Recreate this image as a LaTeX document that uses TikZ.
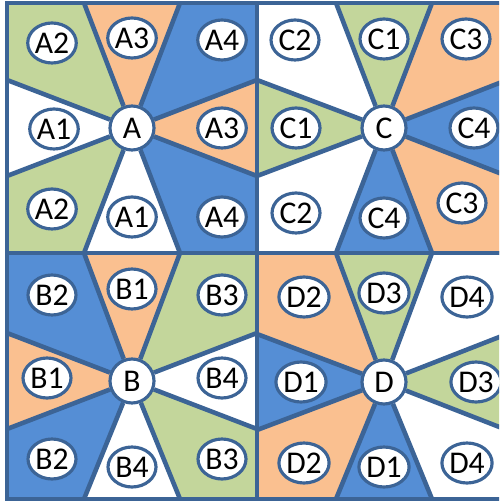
\documentclass[tikz,border=0pt]{standalone}
\usepackage{fontspec}
\setmainfont{Carlito}
\usetikzlibrary{shapes.geometric}
\definecolor{LineBlue}{HTML}{3C6496}
\definecolor{FillBlue}{HTML}{558ED5}
\definecolor{FillGreen}{HTML}{C3D69B}
\definecolor{FillOrange}{HTML}{FAC090}

\begin{document}
\begin{tikzpicture}[x=0.02cm, y=-0.02cm,
        hub/.style={circle, draw=LineBlue, line width=1.8pt, fill=white, minimum size=0.88cm, inner sep=0pt, font=\fontsize{18}{20}\selectfont},
        tag/.style={ellipse, draw=LineBlue, line width=1.8pt, fill=white, minimum width=0.96cm, minimum height=0.8cm, inner sep=0pt, font=\fontsize{18}{20}\selectfont},
        spoke/.style={draw=LineBlue, line width=2.6pt},
        frame/.style={draw=LineBlue, line width=2.2pt}
    ]
    \useasboundingbox (0,0) rectangle (499,502);
    \clip (0,0) rectangle (499,502);

    % corners and spoke ends of each square
    \foreach \q/\x/\y/\xa/\ya/\xb/\yb in {A/132/128/7/3/257/253, C/384/128/257/3/507/253, B/132/381/7/253/257/499, D/384/382/257/253/507/499} {
        \coordinate (\q0) at (\x,\y);
        \coordinate (\q-tl) at (\xa,\ya);
        \coordinate (\q-tr) at (\xb,\ya);
        \coordinate (\q-br) at (\xb,\yb);
        \coordinate (\q-bl) at (\xa,\yb);
        \coordinate (\q-t1) at (\x-48,\ya);
        \coordinate (\q-t2) at (\x+48,\ya);
        \coordinate (\q-r1) at (\xb,\y-48);
        \coordinate (\q-r2) at (\xb,\y+48);
        \coordinate (\q-b1) at (\x-48,\yb);
        \coordinate (\q-b2) at (\x+48,\yb);
        \coordinate (\q-l1) at (\xa,\y-48);
        \coordinate (\q-l2) at (\xa,\y+48);
    }

    % square A
    \fill[FillGreen] (A0) -- (A-l1) -- (A-tl) -- (A-t1) -- cycle;
    \fill[FillOrange] (A0) -- (A-t1) -- (A-t2) -- cycle;
    \fill[FillBlue] (A0) -- (A-t2) -- (A-tr) -- (A-r1) -- cycle;
    \fill[FillOrange] (A0) -- (A-r1) -- (A-r2) -- cycle;
    \fill[FillBlue] (A0) -- (A-r2) -- (A-br) -- (A-b2) -- cycle;
    \fill[FillGreen] (A0) -- (A-b1) -- (A-bl) -- (A-l2) -- cycle;
    % square C
    \fill[FillGreen] (C0) -- (C-t1) -- (C-t2) -- cycle;
    \fill[FillOrange] (C0) -- (C-t2) -- (C-tr) -- (C-r1) -- cycle;
    \fill[FillBlue] (C0) -- (C-r1) -- (C-r2) -- cycle;
    \fill[FillOrange] (C0) -- (C-r2) -- (C-br) -- (C-b2) -- cycle;
    \fill[FillBlue] (C0) -- (C-b2) -- (C-b1) -- cycle;
    \fill[FillGreen] (C0) -- (C-l2) -- (C-l1) -- cycle;
    % square B
    \fill[FillBlue] (B0) -- (B-l1) -- (B-tl) -- (B-t1) -- cycle;
    \fill[FillOrange] (B0) -- (B-t1) -- (B-t2) -- cycle;
    \fill[FillGreen] (B0) -- (B-t2) -- (B-tr) -- (B-r1) -- cycle;
    \fill[FillGreen] (B0) -- (B-r2) -- (B-br) -- (B-b2) -- cycle;
    \fill[FillBlue] (B0) -- (B-b1) -- (B-bl) -- (B-l2) -- cycle;
    \fill[FillOrange] (B0) -- (B-l2) -- (B-l1) -- cycle;
    % square D
    \fill[FillOrange] (D0) -- (D-l1) -- (D-tl) -- (D-t1) -- cycle;
    \fill[FillGreen] (D0) -- (D-t1) -- (D-t2) -- cycle;
    \fill[FillGreen] (D0) -- (D-r1) -- (D-r2) -- cycle;
    \fill[FillBlue] (D0) -- (D-b2) -- (D-b1) -- cycle;
    \fill[FillOrange] (D0) -- (D-b1) -- (D-bl) -- (D-l2) -- cycle;
    \fill[FillBlue] (D0) -- (D-l2) -- (D-l1) -- cycle;

    \foreach \q in {A,B,C,D} {
        \draw[frame] (\q-tl) rectangle (\q-br);
        \node[hub] (\q) at (\q0) {\q};
        \foreach \e in {t1,t2,r1,r2,b1,b2,l1,l2}
            \draw[spoke] (\q) -- (\q-\e);
    }

    \node[tag] (A2tl) at (52,43) {A2};
    \node[tag] (A3t) at (132,38) {A3};
    \node[tag] (A4tr) at (222,40) {A4};
    \node[tag] (A1l) at (54,129) {A1};
    \node[tag] (A3r) at (222,128) {A3};
    \node[tag] (A2bl) at (52,209) {A2};
    \node[tag] (A1b) at (132,217) {A1};
    \node[tag] (A4br) at (222,217) {A4};

    \node[tag] (C2tl) at (295,40) {C2};
    \node[tag] (C1t) at (384,39) {C1};
    \node[tag] (C3tr) at (466,39) {C3};
    \node[tag] (C1l) at (296,128) {C1};
    \node[tag] (C4r) at (474,128) {C4};
    \node[tag] (C2bl) at (296,213) {C2};
    \node[tag] (C4b) at (384,218) {C4};
    \node[tag] (C3br) at (462,203) {C3};

    \node[tag] (B2tl) at (52,295) {B2};
    \node[tag] (B1t) at (132,289) {B1};
    \node[tag] (B3tr) at (222,295) {B3};
    \node[tag] (B1l) at (47,378) {B1};
    \node[tag] (B4r) at (222,378) {B4};
    \node[tag] (B2bl) at (52,459) {B2};
    \node[tag] (B4b) at (132,467) {B4};
    \node[tag] (B3br) at (222,459) {B3};

    \node[tag] (D2tl) at (304,297) {D2};
    \node[tag] (D3t) at (384,293) {D3};
    \node[tag] (D4tr) at (467,297) {D4};
    \node[tag] (D1l) at (301,382) {D1};
    \node[tag] (D3r) at (476,382) {D3};
    \node[tag] (D2bl) at (304,463) {D2};
    \node[tag] (D1b) at (384,467) {D1};
    \node[tag] (D4br) at (467,463) {D4};

\end{tikzpicture}
\end{document}
